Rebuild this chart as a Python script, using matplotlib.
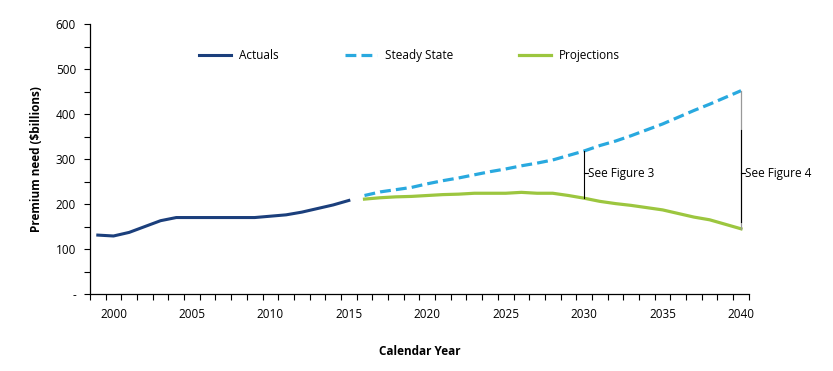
import matplotlib
matplotlib.use("Agg")
import matplotlib.pyplot as plt
from matplotlib.ticker import FixedLocator, NullFormatter

plt.rcParams['font.family'] = ['Open Sans', 'DejaVu Sans']

actual_years = list(range(1999, 2016))
actuals = [131, 129, 137, 150, 163, 170, 170, 170, 170, 170, 170, 173, 176, 182, 190, 198, 208]

proj_years = list(range(2016, 2041))
steady_state = [219, 227, 232, 237, 245, 252, 258, 265, 272, 278, 285, 291, 298,
                308, 318, 330, 340, 352, 365, 378, 393, 408, 422, 437, 452]
projections = [211, 214, 216, 217, 219, 221, 222, 224, 224, 224, 226, 224, 224,
               219, 213, 206, 201, 197, 192, 187, 179, 171, 165, 155, 145]

x_labels = [2000, 2005, 2010, 2015, 2020, 2025, 2030, 2035, 2040]
y_labels = ['-', '100', '200', '300', '400', '500', '600']
y_label_vals = [0, 100, 200, 300, 400, 500, 600]

c_act = '#1b3f7c'
c_ss = '#29a9df'
c_proj = '#9cc63f'

fig = plt.figure(figsize=(8.33, 3.71), dpi=100)
ax = fig.add_axes([0.108, 0.2075, 0.791, 0.7275])

ax.plot(actual_years, actuals, color=c_act, lw=2.2, label='Actuals')
ax.plot(proj_years, steady_state, color=c_ss, lw=2.3, ls=(0, (3.4, 1.6)), label='Steady State')
ax.plot(proj_years, projections, color=c_proj, lw=2.3, label='Projections')

ymid = 269
# annotation 2030
i30 = proj_years.index(2030)
ax.plot([2030, 2030], [projections[i30], steady_state[i30]], color='black', lw=0.8)
ax.plot([2030, 2030.25], [ymid, ymid], color='black', lw=0.8)
ax.text(2030.25, ymid, 'See Figure 3', fontsize=8.5, va='center', ha='left')

# annotation 2040
i40 = proj_years.index(2040)
ax.plot([2040, 2040], [projections[i40], steady_state[i40]], color='#999999', lw=0.9)
ax.plot([2040, 2040], [160, 364], color='black', lw=0.8)
ax.plot([2040, 2040.25], [ymid, ymid], color='black', lw=0.8)
ax.text(2040.25, ymid, 'See Figure 4', fontsize=8.5, va='center', ha='left')

ax.set_xlim(1998.5, 2040.5)
ax.set_ylim(0, 600)

ax.xaxis.set_major_locator(FixedLocator([y + 0.5 for y in range(1998, 2041)]))
ax.xaxis.set_major_formatter(NullFormatter())
ax.xaxis.set_minor_locator(FixedLocator(x_labels))
ax.set_xticklabels([str(v) for v in x_labels], minor=True)
ax.tick_params(axis='x', which='major', direction='out', length=4, width=0.8)
ax.tick_params(axis='x', which='minor', length=0, pad=10, labelsize=8.5)

ax.yaxis.set_major_locator(FixedLocator(y_label_vals))
ax.set_yticklabels(y_labels)
ax.yaxis.set_minor_locator(FixedLocator([50, 150, 250, 350, 450, 550]))
ax.tick_params(axis='y', which='both', direction='out', length=4, width=0.8, pad=6, labelsize=8.5)

for s in ['top', 'right']:
    ax.spines[s].set_visible(False)
for s in ['left', 'bottom']:
    ax.spines[s].set_linewidth(0.9)

ax.set_ylabel('Premium need ($billions)', fontsize=8.5, fontweight='bold')
ax.set_xlabel('Calendar Year', fontsize=8.5, fontweight='bold', labelpad=17)
ax.yaxis.set_label_coords(-0.072, 0.5)

ax.legend(loc='center', bbox_to_anchor=(0.485, 0.885), ncol=3, frameon=False,
          fontsize=8.5, handlelength=2.7, columnspacing=5.6, handletextpad=0.7)

fig.savefig('out.png', dpi=100)
